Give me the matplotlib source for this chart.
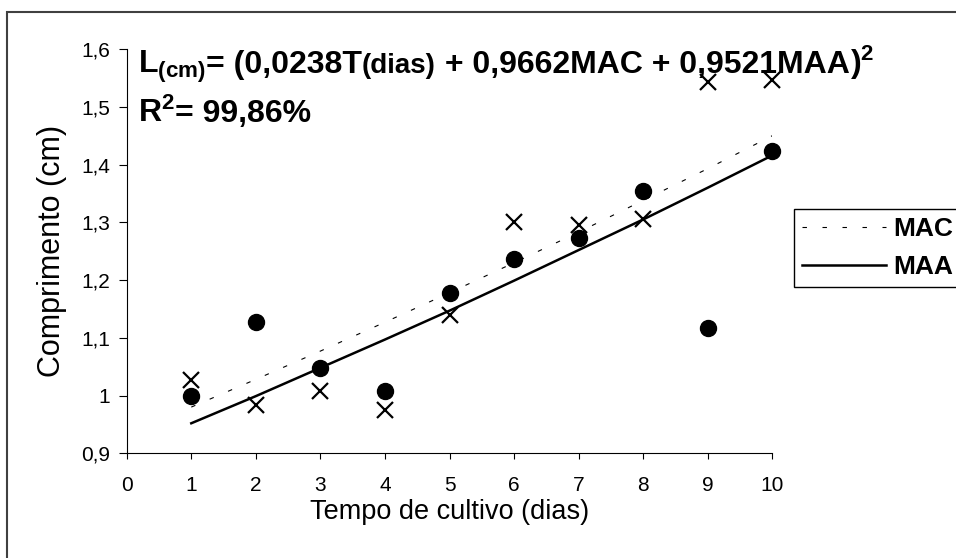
import matplotlib

matplotlib.use('Agg')
import matplotlib.pyplot as plt
from matplotlib.patches import Rectangle

plt.rcParams['font.family'] = 'Liberation Sans'
plt.rcParams['mathtext.fontset'] = 'custom'
plt.rcParams['mathtext.rm'] = 'Liberation Sans'
plt.rcParams['mathtext.bf'] = 'Liberation Sans:bold'

W, H = 956, 558

# Data
days = [1, 2, 3, 4, 5, 6, 7, 8, 9, 10]
mac_obs = [1.000, 1.127, 1.048, 1.007, 1.178, 1.237, 1.273, 1.355, 1.117, 1.423]
maa_obs = [1.027, 0.983, 1.008, 0.975, 1.140, 1.300, 1.295, 1.305, 1.542, 1.547]
mac_fit = [0.980, 1.028, 1.077, 1.127, 1.178, 1.230, 1.283, 1.338, 1.393, 1.450]
maa_fit = [0.952, 0.999, 1.048, 1.097, 1.147, 1.199, 1.252, 1.305, 1.360, 1.416]

xticks = list(range(0, 11))
yticks = [0.9, 1.0, 1.1, 1.2, 1.3, 1.4, 1.5, 1.6]
ytick_labels = ['0,9', '1', '1,1', '1,2', '1,3', '1,4', '1,5', '1,6']

fig = plt.figure(figsize=(W / 100, H / 100), dpi=100)
ax = fig.add_axes([126.7 / W, (H - 453.3) / H, (772.5 - 126.7) / W, (453.3 - 49) / H])

l_mac, = ax.plot(days, mac_fit, color='black', lw=0.8, dashes=(4, 14), label='MAC', zorder=2)
l_maa, = ax.plot(days, maa_fit, color='black', lw=1.8, label='MAA', zorder=2)
ax.plot(days, mac_obs, 'o', ms=11.5, color='black', ls='none', zorder=3, clip_on=False)
ax.plot(days, maa_obs, 'x', ms=11, mew=1.6, color='black', ls='none', zorder=3, clip_on=False)

ax.set_xlim(0, 10)
ax.set_ylim(0.9, 1.6)
ax.set_xticks(xticks)
ax.set_yticks(yticks)
ax.set_yticklabels(ytick_labels)
ax.tick_params(axis='x', direction='out', length=4.5, width=0.8, labelsize=15, pad=12)
ax.tick_params(axis='y', direction='out', length=5.5, width=0.8, labelsize=15, pad=6.5)

for side in ['top', 'right']:
    ax.spines[side].set_visible(False)
for side in ['left', 'bottom']:
    ax.spines[side].set_linewidth(0.8)

ax.set_xlabel('Tempo de cultivo (dias)', fontsize=19.5)
ax.xaxis.set_label_coords(0.5, -0.112)
ax.set_ylabel('Comprimento (cm)', fontsize=22)
ax.yaxis.set_label_coords(-0.093, 0.5)

leg = ax.legend(handles=[l_mac, l_maa], loc='upper left',
                bbox_to_anchor=(794 / W, 1 - 209 / H), bbox_transform=fig.transFigure,
                frameon=True, fancybox=False, edgecolor='black', framealpha=1,
                borderaxespad=0, borderpad=0.3, handlelength=3.2, handletextpad=0.25,
                labelspacing=0.55, prop={'weight': 'bold', 'size': 19})
leg.get_frame().set_linewidth(1.0)

# outer chart frame (right and bottom edges fall outside the picture)
fig.patches.append(Rectangle((7 / W, -0.1), 1.2, 1.1 - 12 / H, transform=fig.transFigure,
                             fill=False, edgecolor='#404040', lw=1.5))

# equation text, built piece by piece on a common baseline
fig.canvas.draw()
renderer = fig.canvas.get_renderer()


def text_run(x, y, pieces):
    for s, size in pieces:
        t = fig.text(x / W, 1 - y / H, s, fontsize=size, fontweight='bold',
                     va='baseline', ha='left')
        x += t.get_window_extent(renderer).width


text_run(138, 73, [(r'$\mathbf{L_{(cm)}}$', 23), ('= (0,0238T', 23), ('(dias)', 20),
                   (' + 0,9662MAC + 0,9521MAA', 23), (r'$\mathbf{)^{2}}$', 23)])
text_run(138, 122, [(r'$\mathbf{R^{2}}$', 23), ('= 99,86%', 23)])

fig.savefig('out.png', dpi=100)
